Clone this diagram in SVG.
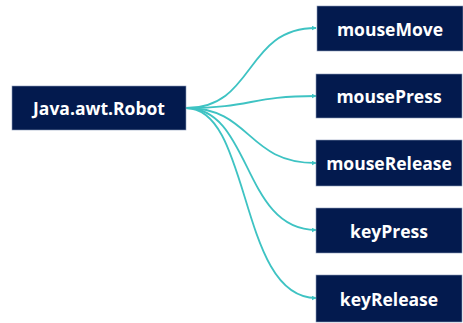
<svg xmlns="http://www.w3.org/2000/svg" width="463" height="323" viewBox="0 0 463 323">
<style>
.box{fill:#031a4e;stroke:#8a9ab8;stroke-width:0.6}
.lbl{fill:#ffffff;font-family:"Open Sans","Noto Sans",sans-serif;font-weight:bold;font-size:17.5px;text-anchor:middle;dominant-baseline:central}
.con{fill:none;stroke:#3ec3c3;stroke-width:1.8}
</style>
<defs>
<marker id="arr" viewBox="0 0 10 10" refX="9" refY="5" markerWidth="5" markerHeight="5" orient="auto" markerUnits="userSpaceOnUse">
<path d="M0,0 L10,5 L0,10 z" fill="#3ec3c3"/>
</marker>
</defs>
<rect width="463" height="323" fill="#ffffff"/>
<g id="connectors">
<path class="con" marker-end="url(#arr)" d="M186,108 C256,108 244,28 316,28"/>
<path class="con" marker-end="url(#arr)" d="M186,108 C252,108 250,96 316,96"/>
<path class="con" marker-end="url(#arr)" d="M186,108 C252,108 246,163 316,163"/>
<path class="con" marker-end="url(#arr)" d="M186,108 C252,108 242,230 316,230"/>
<path class="con" marker-end="url(#arr)" d="M186,108 C252,108 238,298 316,298"/>
</g>
<g id="robot"><rect class="box" x="12" y="86" width="174" height="44"/><text class="lbl" x="99" y="108">Java.awt.Robot</text></g>
<g id="mouseMove"><rect class="box" x="317" y="6" width="146" height="45"/><text class="lbl" x="390" y="28.5">mouseMove</text></g>
<g id="mousePress"><rect class="box" x="316" y="74" width="146" height="44"/><text class="lbl" x="389" y="96">mousePress</text></g>
<g id="mouseRelease"><rect class="box" x="316" y="140" width="146" height="46"/><text class="lbl" x="389" y="163">mouseRelease</text></g>
<g id="keyPress"><rect class="box" x="316" y="208" width="146" height="45"/><text class="lbl" x="389" y="230.5">keyPress</text></g>
<g id="keyRelease"><rect class="box" x="316" y="275" width="146" height="47"/><text class="lbl" x="389" y="298.5">keyRelease</text></g>
</svg>
